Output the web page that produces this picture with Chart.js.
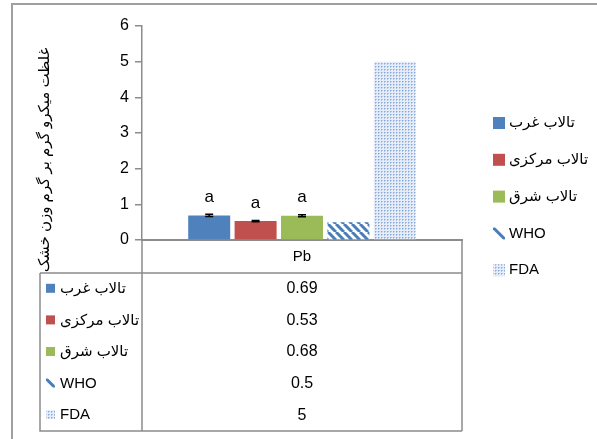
<!DOCTYPE html>
<html>
<head>
<meta charset="utf-8">
<script src="https://cdn.jsdelivr.net/npm/chart.js@4"></script>
<style>
html,body{margin:0;padding:0;background:#fff;}
#wrap{width:597px;height:439px;position:relative;}
</style>
</head>
<body>
<div id="wrap"><canvas id="c" width="597" height="439"></canvas></div>
<script>
const categories = ['Pb'];
const seriesNames = ['تالاب غرب', 'تالاب مرکزی', 'تالاب شرق', 'WHO', 'FDA'];
const values = [0.69, 0.53, 0.68, 0.5, 5];
const errors = [0.03, 0.015, 0.03, null, null];
const letters = ['a', 'a', 'a', '', ''];
const yTicks = [0, 1, 2, 3, 4, 5, 6];
const yTitle = 'غلظت میکرو گرم بر گرم وزن خشک';

const FONT = '"Liberation Sans", "DejaVu Sans", Arial, sans-serif';
const LINE = '#8c8c8c';

function stripePattern() {
  const c = document.createElement('canvas');
  c.width = 8; c.height = 8;
  const x = c.getContext('2d');
  x.fillStyle = '#ffffff'; x.fillRect(0, 0, 8, 8);
  x.strokeStyle = '#4a7ebb'; x.lineWidth = 3;
  x.beginPath();
  for (let k = -8; k <= 16; k += 8) { x.moveTo(k, 0); x.lineTo(k + 8, 8); }
  x.stroke();
  return x.createPattern(c, 'repeat');
}
function dotPattern() {
  const c = document.createElement('canvas');
  c.width = 3; c.height = 3;
  const x = c.getContext('2d');
  x.fillStyle = '#e6edf8'; x.fillRect(0, 0, 3, 3);
  x.fillStyle = '#86a9dc';
  x.fillRect(0, 0, 1, 1);
  x.fillStyle = '#b3c9ea';
  x.fillRect(1, 0, 1, 1); x.fillRect(0, 1, 1, 1);
  return x.createPattern(c, 'repeat');
}
const fills = ['#4F81BD', '#C0504D', '#9BBB59', stripePattern(), dotPattern()];

function drawMarker(ctx, i, x, y, s) {
  if (i < 3) { ctx.fillStyle = fills[i]; ctx.fillRect(x, y, s, s); return; }
  if (i === 3) {
    ctx.save(); ctx.beginPath(); ctx.rect(x, y, s, s); ctx.clip();
    ctx.strokeStyle = '#4a7ebb'; ctx.lineWidth = 3;
    ctx.beginPath(); ctx.moveTo(x, y); ctx.lineTo(x + s, y + s); ctx.stroke();
    ctx.restore(); return;
  }
  ctx.fillStyle = fills[4]; ctx.fillRect(x, y, s, s);
}

const extras = {
  id: 'extras',
  afterDraw(chart) {
    const ctx = chart.ctx;
    const xs = chart.scales.x, ys = chart.scales.y;
    const ca = chart.chartArea;
    ctx.save();
    // outer frame
    ctx.strokeStyle = '#a0a0a0'; ctx.lineWidth = 2;
    ctx.beginPath(); ctx.moveTo(12, 439); ctx.lineTo(12, 4); ctx.lineTo(597, 4); ctx.stroke();

    // error bars and letters
    chart.data.datasets.forEach((ds, i) => {
      const meta = chart.getDatasetMeta(i);
      const bar = meta.data[0];
      const cx = bar.x;
      if (errors[i] != null) {
        const yt = ys.getPixelForValue(values[i] + errors[i]);
        const yb = ys.getPixelForValue(values[i] - errors[i]);
        ctx.strokeStyle = '#000'; ctx.lineWidth = 1.5;
        ctx.beginPath();
        ctx.moveTo(cx, yt); ctx.lineTo(cx, yb);
        ctx.moveTo(cx - 4, yt); ctx.lineTo(cx + 4, yt);
        ctx.moveTo(cx - 4, yb); ctx.lineTo(cx + 4, yb);
        ctx.stroke();
      }
      if (letters[i]) {
        ctx.fillStyle = '#000'; ctx.font = '17px ' + FONT;
        ctx.textAlign = 'center'; ctx.textBaseline = 'middle';
        ctx.fillText(letters[i], cx, bar.y - 18);
      }
    });

    // data table
    const tl = 40, tr = ca.right, colX = ca.left, top = ca.bottom, hdrB = 273, bot = 431;
    ctx.strokeStyle = LINE; ctx.lineWidth = 1.5;
    ctx.beginPath();
    ctx.moveTo(tr, top); ctx.lineTo(tr, bot);
    ctx.moveTo(colX, top); ctx.lineTo(colX, bot);
    ctx.moveTo(tl, hdrB); ctx.lineTo(tr, hdrB);
    ctx.moveTo(tl, hdrB); ctx.lineTo(tl, bot); ctx.lineTo(tr, bot);
    ctx.stroke();
    const rowH = (bot - hdrB) / seriesNames.length;
    seriesNames.forEach((n, i) => {
      const cy = hdrB + rowH * (i + 0.5);
      drawMarker(ctx, i, 46, cy - 5, 9);
      ctx.fillStyle = '#000'; ctx.font = '15px ' + FONT;
      ctx.textAlign = 'left'; ctx.textBaseline = 'middle';
      ctx.fillText(n, 60, cy);
      ctx.font = '16px ' + FONT;
      ctx.textAlign = 'center';
      ctx.fillText(String(values[i]), (colX + tr) / 2, cy);
    });

    // right legend
    seriesNames.forEach((n, i) => {
      const cy = 123 + i * 36.8;
      drawMarker(ctx, i, 493, cy - 6, 12);
      ctx.fillStyle = '#000'; ctx.font = '15px ' + FONT;
      ctx.textAlign = 'left'; ctx.textBaseline = 'middle';
      ctx.fillText(n, 509, cy);
    });

    // y title
    ctx.save();
    ctx.translate(45, 160);
    ctx.rotate(-Math.PI / 2);
    ctx.fillStyle = '#000'; ctx.font = '15px ' + FONT;
    ctx.textAlign = 'center'; ctx.textBaseline = 'middle';
    ctx.fillText(yTitle, 0, 0, 262);
    ctx.restore();
    ctx.restore();
  }
};

new Chart(document.getElementById('c'), {
  type: 'bar',
  data: {
    labels: categories,
    datasets: seriesNames.map((n, i) => ({
      label: n,
      data: [values[i]],
      backgroundColor: fills[i],
      borderWidth: 0,
      categoryPercentage: 0.725,
      barPercentage: 0.905
    }))
  },
  options: {
    responsive: false,
    animation: false,
    devicePixelRatio: 1,
    layout: { padding: { left: 0, top: 26, right: 135, bottom: 0 } },
    plugins: { legend: { display: false }, tooltip: { enabled: false } },
    scales: {
      x: {
        grid: { display: true, drawOnChartArea: false, drawTicks: false },
        border: { color: LINE, width: 2 },
        ticks: { color: '#000', font: { size: 15, family: FONT }, padding: 8 },
        afterFit: s => { s.height = 199; }
      },
      y: {
        min: 0, max: 6,
        afterBuildTicks: s => { s.ticks = yTicks.map(v => ({ value: v })); },
        grid: { drawOnChartArea: false, tickLength: 7, color: LINE, lineWidth: 1.5 },
        border: { color: LINE, width: 1.5 },
        ticks: { color: '#000', font: { size: 16, family: FONT }, padding: 6 },
        afterFit: s => { s.width = 142; }
      }
    }
  },
  plugins: [extras]
});
</script>
</body>
</html>
